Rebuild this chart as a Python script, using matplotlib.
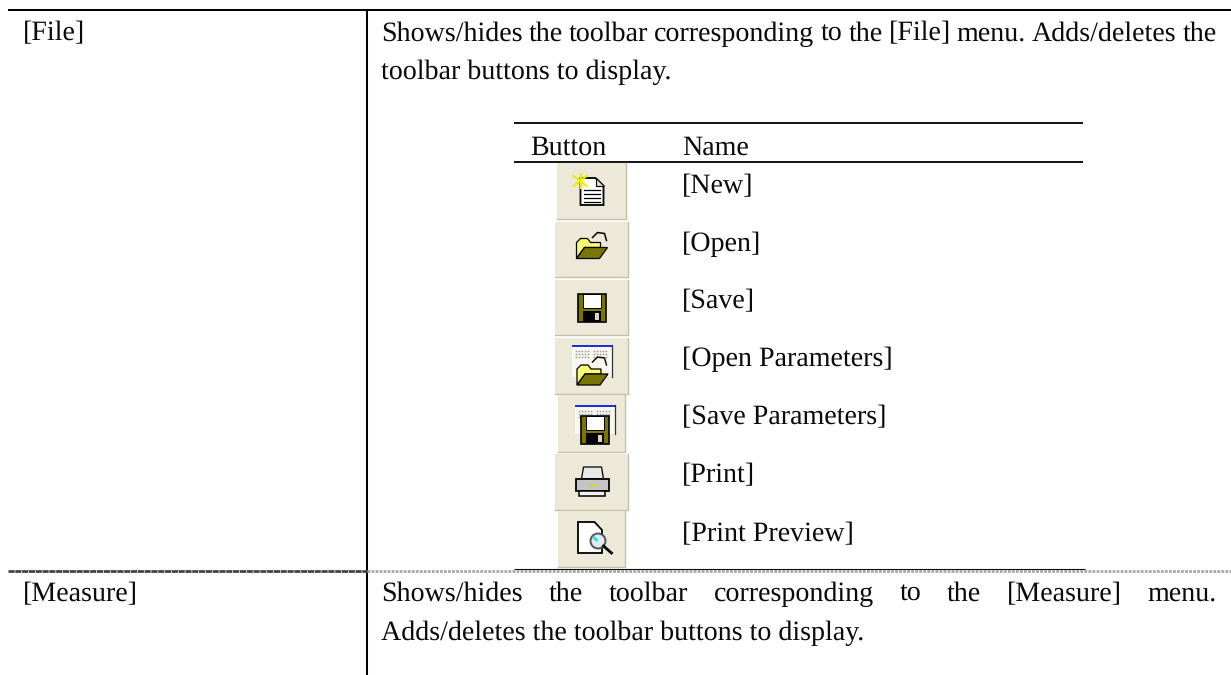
import matplotlib
matplotlib.use("Agg")
import matplotlib.pyplot as plt
from matplotlib.patches import Rectangle, Polygon, Circle

plt.rcParams['font.family'] = ['Liberation Serif', 'DejaVu Serif']
plt.rcParams['text.hinting'] = 'no_hinting'
plt.rcParams['text.hinting_factor'] = 1

left_labels = ["[File]", "[Measure]"]
left_label_y = [40.5, 601]
file_desc = ["Shows/hides the toolbar corresponding to the [File] menu. Adds/deletes the",
             "toolbar buttons to display."]
file_desc_y = [40.5, 78.5]
measure_desc = ["Shows/hides the toolbar corresponding to the [Measure] menu.",
                "Adds/deletes the toolbar buttons to display."]
measure_desc_y = [601, 639.5]
inner_headers = ["Button", "Name"]
button_names = ["[New]", "[Open]", "[Save]", "[Open Parameters]", "[Save Parameters]", "[Print]", "[Print Preview]"]
name_y = [193, 251, 308.5, 366.5, 424, 482.5, 541]
btn_boxes = [(557, 163, 626, 219), (555, 222, 628, 277), (555, 280, 628, 335), (555, 338, 628, 394),
             (558, 395, 625, 452), (555, 454, 628, 510), (558, 511, 625, 567)]
icon_kinds = ["new", "open", "save", "openp", "savep", "print", "preview"]

W, H = 1231, 675
FS = 20.3
fig = plt.figure(figsize=(W / 100, H / 100), dpi=100)
ax = fig.add_axes([0, 0, 1, 1])
ax.set_xlim(0, W)
ax.set_ylim(H, 0)
ax.axis("off")


def txt(x, y, s, **kw):
    return ax.text(x, y, s, fontsize=FS, va="baseline", ha="left", color="#0a0a0a", **kw)


def justified(x0, x1, y, s):
    words = s.split(" ")
    r = fig.canvas.get_renderer()
    widths = []
    for w in words:
        t = txt(0, 0, w)
        widths.append(t.get_window_extent(r).width)
        t.remove()
    gap = (x1 - x0 - sum(widths)) / (len(words) - 1)
    x = x0
    for w, wd in zip(words, widths):
        txt(x, y, w)
        x += wd + gap


# rules
ax.plot([8, 1231], [10, 10], color="black", lw=1.45, solid_capstyle="butt")
ax.plot([367, 367], [10, 675], color="black", lw=1.45, solid_capstyle="butt")
ax.plot([8, 367], [570.5, 570.5], color="#444444", lw=2.0, ls=(0, (2.2, 0.25)))
ax.plot([367, 1231], [570.5, 570.5], color="#a8a8a8", lw=2.0, ls=(0, (1.0, 0.45)))
ax.plot([514, 1085], [568.7, 568.7], color="#111111", lw=0.8, solid_capstyle="butt")
ax.plot([514, 1083], [122.8, 122.8], color="black", lw=1.3, solid_capstyle="butt")
ax.plot([514, 1083], [161.8, 161.8], color="black", lw=1.3, solid_capstyle="butt")

# text
for s, y in zip(left_labels, left_label_y):
    txt(23, y, s)
justified(381, 1217, file_desc_y[0], file_desc[0])
txt(381, file_desc_y[1], file_desc[1])
justified(381, 1217, measure_desc_y[0], measure_desc[0])
txt(381, measure_desc_y[1], measure_desc[1])
txt(530, 155, inner_headers[0])
txt(682, 155, inner_headers[1])
for s, y in zip(button_names, name_y):
    txt(682, y, s)

OL = "#7a7400"
YL = "#fbfb70"


def rect(x, y, w, h, fc, ec="none", lw=0.8, z=3):
    ax.add_patch(Rectangle((x, y), w, h, fc=fc, ec=ec, lw=lw, zorder=z))


def poly(pts, fc, ec="black", lw=0.9, z=4):
    ax.add_patch(Polygon(pts, closed=True, fc=fc, ec=ec, lw=lw, zorder=z))


def folder(cx, cy):
    poly([(cx-15, cy+10), (cx-15, cy-6), (cx-11, cy-10), (cx-4, cy-10), (cx-1, cy-6), (cx+9, cy-6),
          (cx+9, cy-1), (cx-7, cy-1)], YL)
    poly([(cx-15, cy+10), (cx-7, cy-1), (cx+16, cy-1), (cx+8, cy+10)], OL)


def disk(cx, cy):
    rect(cx-14, cy-14, 28, 28, OL, "black", 1.2, 4)
    rect(cx-9, cy-14, 18, 14, "white", "black", 0.7, 5)
    rect(cx-9, cy+3, 18, 11, "black", z=5)
    rect(cx+3, cy+5, 4, 7, "#d8d4c0", z=6)


def grid_page(x0, y0, x1, y1):
    rect(x0, y0, x1-x0, y1-y0, "#f8f7f0", z=3)
    rect(x0, y0, x1-x0, 2, "#1f2fe0", z=4)
    ax.plot([x1, x1], [y0, y1], color="#333333", lw=0.9, zorder=4)
    xs = [x0 + 4 + 3 * i for i in range(5)] + [x0 + 22 + 3 * i for i in range(5)]
    for j in range(3):
        ax.plot(xs, [y0 + 6 + 3 * j] * len(xs), ls="none", marker="s", ms=1.1, mew=0, color="#999999", zorder=3.5)


def draw_icon(kind, cx, cy):
    if kind == "new":
        poly([(cx-11, cy-13), (cx+4, cy-13), (cx+12, cy-5), (cx+12, cy+14), (cx-11, cy+14)], "white", lw=1.3)
        poly([(cx+4, cy-13), (cx+4, cy-5), (cx+12, cy-5)], "#dddddd", lw=0.8, z=5)
        for dy in (-1, 3, 7, 11):
            ax.plot([cx-8, cx+8], [cy+dy, cy+dy], color="black", lw=0.9, zorder=5)
        ax.plot([cx-18, cx-5], [cy-15, cy-5], color="#eeee00", lw=1.5, zorder=6)
        ax.plot([cx-18, cx-5], [cy-5, cy-15], color="#eeee00", lw=1.5, zorder=6)
        ax.plot([cx-11, cx-11], [cy-17, cy-3], color="#eeee00", lw=1.5, zorder=6)
    elif kind == "open":
        folder(cx, cy - 1)
        ax.plot([cx+1, cx+6, cx+13, cx+15], [cy-12, cy-17, cy-16, cy-9], color="black", lw=1.1, zorder=5)
    elif kind == "save":
        disk(cx, cy)
    elif kind == "openp":
        grid_page(cx-19.5, cy-21, cx+20.5, cy+11)
        folder(cx + 0.5, cy + 9)
        ax.plot([cx+1, cx+6, cx+13, cx+15], [cy-4, cy-9, cy-8, cy-1], color="black", lw=1.0, zorder=5)
    elif kind == "savep":
        grid_page(cx-16.5, cy-19, cx+23.5, cy+10)
        disk(cx + 3.5, cy + 6)
    elif kind == "print":
        poly([(cx-8, cy-15), (cx+10, cy-15), (cx+12, cy-3), (cx-10, cy-3)], "#e8e8e8")
        rect(cx-16, cy-3, 33, 12, "#c4c4c4", "black", 1.3, 4)
        rect(cx-3, cy+2, 7, 2, "#e0d000", z=5)
        rect(cx-13, cy+9, 26, 5, "#f0f0f0", "black", 1.1, 4)
    else:
        poly([(cx-13.5, cy-17), (cx+3, cy-17), (cx+10.5, cy-9), (cx+10.5, cy+14), (cx-13.5, cy+14)], "white", lw=1.3)
        ax.add_patch(Circle((cx+6.5, cy+2), 7.5, fc="#dfe9ee", ec="#555555", lw=1.4, zorder=5))
        ax.plot([cx+12, cx+20], [cy+7, cy+14], color="black", lw=2.0, zorder=5)
        ax.plot([cx+3, cx+5], [cy-1, cy+1], color="#20e0ee", lw=2.0, zorder=6)


for (x0, y0, x1, y1), k in zip(btn_boxes, icon_kinds):
    rect(x0, y0, x1 - x0, y1 - y0, "#ece9d8", z=2)
    ax.plot([x0, x1, x1], [y1, y1, y0], color="#c4c0aa", lw=1.0, zorder=2)
    draw_icon(k, (x0 + x1) / 2, (y0 + y1) / 2)

fig.savefig("out.png", dpi=100, facecolor="white")
